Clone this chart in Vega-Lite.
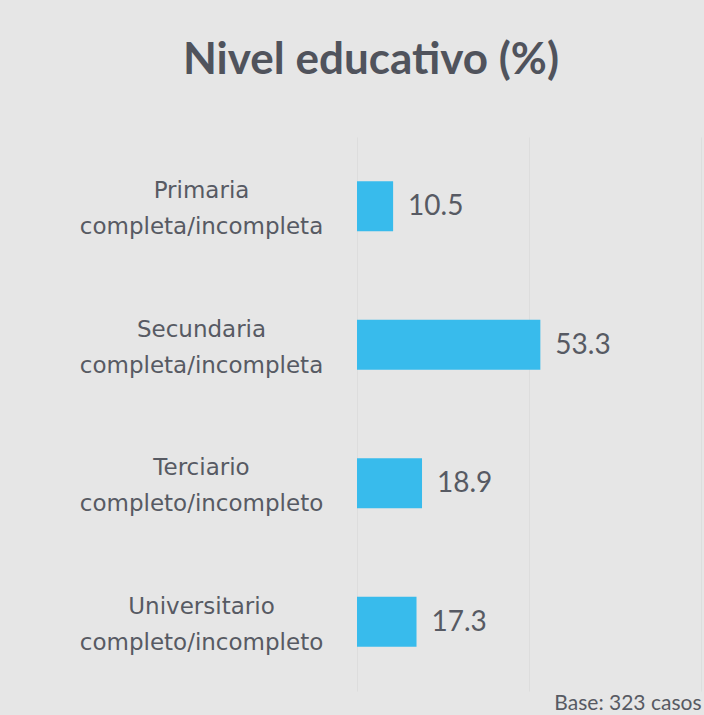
{
  "$schema": "https://vega.github.io/schema/vega-lite/v6.json",
  "autosize": "none",
  "width": 344,
  "height": 554,
  "padding": {"left": 357, "top": 137, "right": 3, "bottom": 24},
  "background": "#e6e6e6",
  "title": {
    "text": "Nivel educativo (%)",
    "font": "Lato",
    "fontSize": 44,
    "fontWeight": "bold",
    "color": "#50535c",
    "anchor": "middle",
    "frame": "group",
    "dx": -158,
    "offset": 54
  },
  "data": {
    "values": [
      {"nivel": "Primaria|completa/incompleta", "pct": 10.5},
      {"nivel": "Secundaria|completa/incompleta", "pct": 53.3},
      {"nivel": "Terciario|completo/incompleto", "pct": 18.9},
      {"nivel": "Universitario|completo/incompleto", "pct": 17.3}
    ]
  },
  "encoding": {
    "y": {
      "field": "nivel",
      "type": "nominal",
      "sort": null,
      "scale": {"paddingInner": 0.64, "paddingOuter": 0.32},
      "axis": {
        "title": null,
        "domain": false,
        "ticks": false,
        "labelExpr": "split(datum.value, '|')",
        "labelAlign": "center",
        "labelBaseline": "middle",
        "labelPadding": 156,
        "labelOffset": -15,
        "labelFont": "DejaVu Sans",
        "labelFontSize": 23,
        "labelColor": "#575a63",
        "labelLineHeight": 36,
        "labelLimit": 400
      }
    },
    "x": {
      "field": "pct",
      "type": "quantitative",
      "scale": {"domain": [0, 100]},
      "axis": {
        "values": [0, 50, 100],
        "labels": false,
        "ticks": false,
        "domain": false,
        "grid": true,
        "gridColor": "#dddddd",
        "gridWidth": 1,
        "title": "Base: 323 casos",
        "titleFont": "Lato",
        "titleFontSize": 21,
        "titleFontWeight": "normal",
        "titleColor": "#575a63",
        "titleAnchor": "end",
        "titleAlign": "right",
        "titlePadding": 1
      }
    }
  },
  "layer": [
    {"mark": {"type": "bar", "color": "#38bbec"}},
    {
      "mark": {"type": "text", "align": "left", "baseline": "middle", "dx": 15, "dy": 1, "font": "Lato", "fontSize": 28, "color": "#575a63"},
      "encoding": {"text": {"field": "pct", "type": "quantitative", "format": ".1f"}}
    }
  ],
  "config": {"view": {"stroke": null}}
}
